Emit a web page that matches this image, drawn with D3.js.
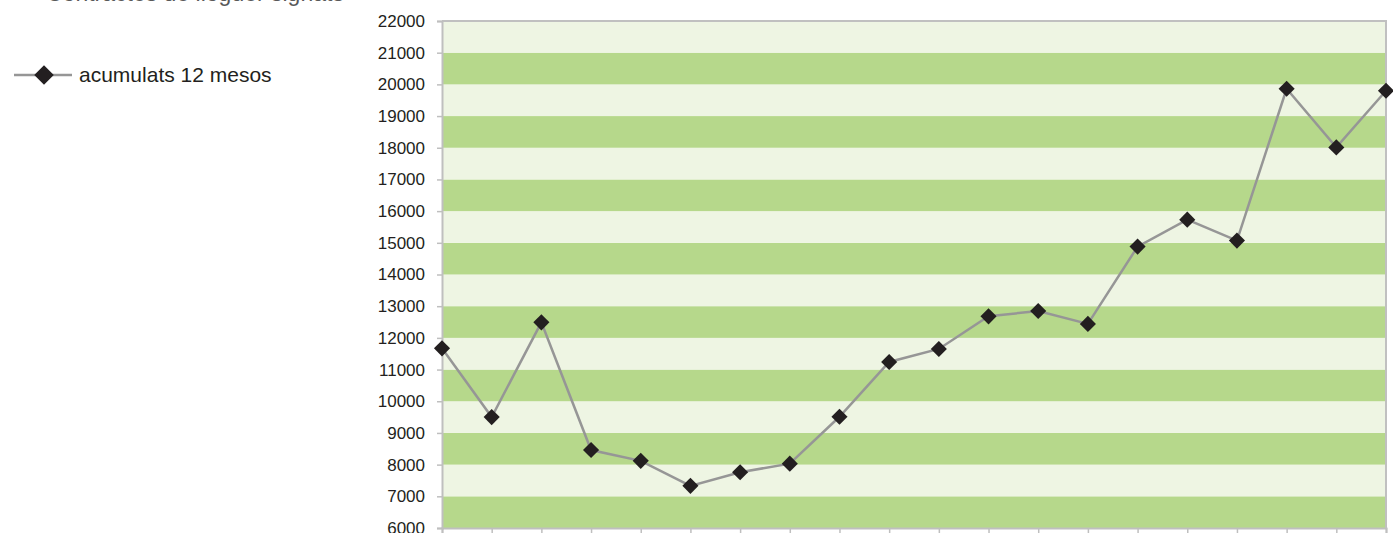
<!DOCTYPE html>
<html>
<head>
<meta charset="utf-8">
<script src="https://cdn.jsdelivr.net/npm/d3@7"></script>
<style>
  html, body { margin: 0; padding: 0; background: #ffffff; }
  svg { display: block; font-family: Arial, "Liberation Sans", sans-serif; }
</style>
</head>
<body>
<svg id="chart" width="1393" height="533"></svg>
<script>
// Contractes acumulats en 12 mesos, un valor per període
const periods = d3.range(1, 21).map(i => "P" + i);
const acumulats12 = [11670, 9500, 12490, 8460, 8120, 7330, 7760, 8030, 9510, 11240,
                     11650, 12680, 12850, 12440, 14880, 15730, 15070, 19860, 18010, 19800];
const yTicks = d3.range(6000, 22001, 1000);
const seriesName = "acumulats 12 mesos";
const titleText = "Contractes de lloguer signats";

const svg = d3.select("#chart");
const plotLeft = 442, plotRight = 1386, plotTop = 21, plotBottom = 528;

const x = d3.scalePoint().domain(periods).range([plotLeft, plotRight]);
const y = d3.scaleLinear().domain([6000, 22000]).range([plotBottom, plotTop]);

// Title (sits at the very top of the page)
svg.append("text")
  .attr("x", 46).attr("y", 0.5)
  .attr("font-size", 23).attr("fill", "#595959")
  .text(titleText);

// Alternating horizontal bands, one per 1000
const bands = d3.range(6000, 22000, 1000);
svg.append("g").selectAll("rect").data(bands).join("rect")
  .attr("x", plotLeft).attr("width", plotRight - plotLeft)
  .attr("y", d => y(d + 1000)).attr("height", d => y(d) - y(d + 1000))
  .attr("fill", (d, i) => i % 2 === 0 ? "#b6d88b" : "#eef5e3");

// Plot border (top and right)
svg.append("path")
  .attr("d", `M${plotLeft},${plotTop}H${plotRight}V${plotBottom}`)
  .attr("fill", "none").attr("stroke", "#c0c0c0").attr("stroke-width", 2);

// Y axis
const yAxis = svg.append("g").attr("transform", `translate(${plotLeft},0)`)
  .call(d3.axisLeft(y).tickValues(yTicks).tickFormat(d3.format("d")).tickSize(5).tickPadding(12));
yAxis.select(".domain").attr("stroke", "#bfbfbf").attr("stroke-width", 2);
yAxis.selectAll(".tick line").attr("stroke", "#bfbfbf").attr("stroke-width", 1.5);
yAxis.selectAll(".tick text").attr("font-size", 17).attr("fill", "#231f20")
  .attr("font-family", "Arial, 'Liberation Sans', sans-serif");

// X axis (labels fall below the visible area)
const xAxis = svg.append("g").attr("transform", `translate(0,${plotBottom})`)
  .call(d3.axisBottom(x).tickSize(8).tickFormat(() => ""));
xAxis.select(".domain").attr("stroke", "#bfbfbf").attr("stroke-width", 2);
xAxis.selectAll(".tick line").attr("stroke", "#bfbfbf").attr("stroke-width", 1.5);

// Series line
const line = d3.line().x((d, i) => x(periods[i])).y(d => y(d));
svg.append("path").datum(acumulats12)
  .attr("d", line).attr("fill", "none")
  .attr("stroke", "#969696").attr("stroke-width", 2.5);

// Diamond markers
const diamond = d3.symbol().type(d3.symbolSquare).size(130);
svg.append("g").selectAll("path").data(acumulats12).join("path")
  .attr("d", diamond)
  .attr("transform", (d, i) => `translate(${x(periods[i])},${y(d)}) rotate(45)`)
  .attr("fill", "#231f20");

// Legend
const lg = svg.append("g").attr("transform", "translate(14,75)");
lg.append("line").attr("x1", 0).attr("x2", 58).attr("y1", 0).attr("y2", 0)
  .attr("stroke", "#969696").attr("stroke-width", 2.5);
lg.append("path").attr("d", d3.symbol().type(d3.symbolSquare).size(190))
  .attr("transform", "translate(30,0) rotate(45)")
  .attr("fill", "#231f20");
lg.append("text").attr("x", 65).attr("y", 7).attr("font-size", 21)
  .attr("fill", "#231f20").text(seriesName);
</script>
</body>
</html>
